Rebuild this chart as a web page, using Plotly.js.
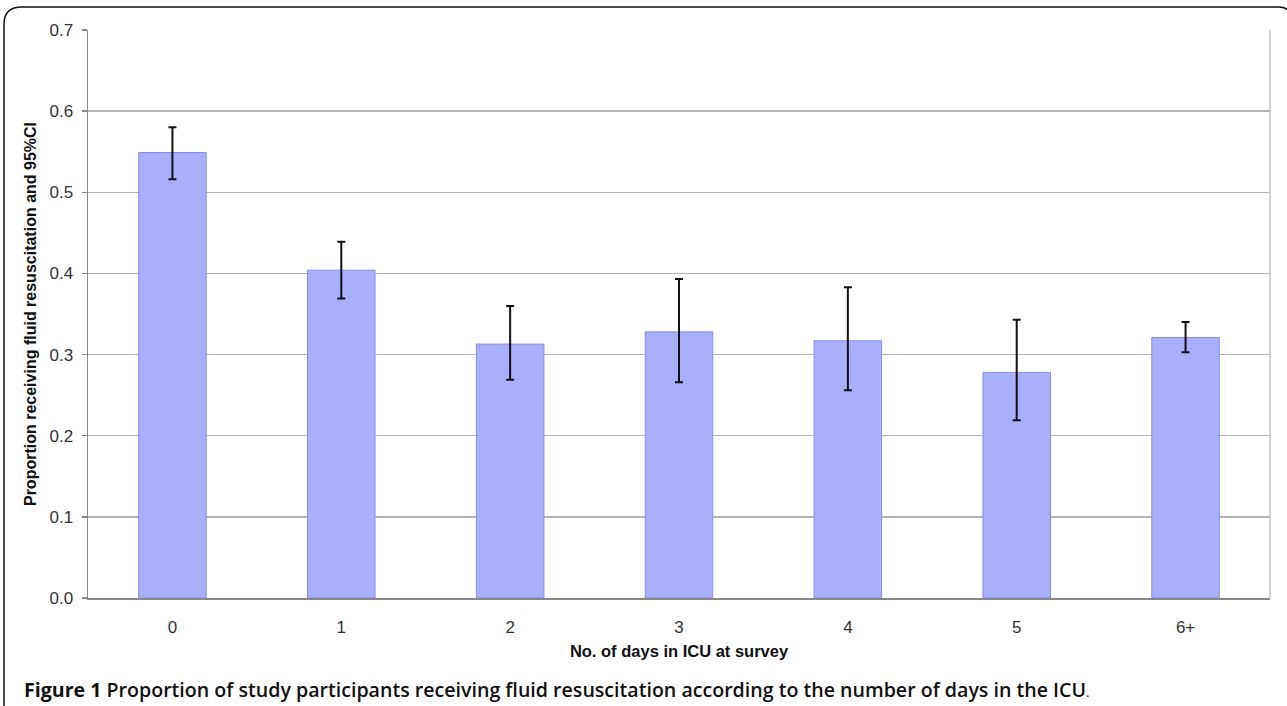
<!DOCTYPE html>
<html><head><meta charset="utf-8">
<script src="https://cdn.plot.ly/plotly-3.0.1.min.js"></script>
<style>body{margin:0;background:#fff}#chart{width:1287px;height:706px}</style>
</head><body><div id="chart"></div>
<script>
var categories = ["0","1","2","3","4","5","6+"];
var proportion = [0.549, 0.404, 0.313, 0.328, 0.317, 0.278, 0.321];
var ciUpper = [0.580, 0.439, 0.360, 0.393, 0.383, 0.343, 0.340];
var ciLower = [0.516, 0.369, 0.269, 0.266, 0.256, 0.219, 0.303];
var yTicks = [0, 0.1, 0.2, 0.3, 0.4, 0.5, 0.6, 0.7];
var yTickLabels = ["0.0","0.1","0.2","0.3","0.4","0.5","0.6","0.7"];

var W = 1287, H = 706, ML = 88, MR = 17, MT = 30, MB = 108;
var PW = W - ML - MR, PH = H - MT - MB;
function px(x){ return (x - ML) / PW; }
function py(y){ return (H - MB - y) / PH; }

var plus = proportion.map(function(v,i){ return ciUpper[i] - v; });
var minus = proportion.map(function(v,i){ return v - ciLower[i]; });

var trace = {
  type: 'bar', x: categories, y: proportion,
  marker: {color: '#aaaefe', line: {color: '#8a8ee0', width: 1}},
  error_y: {type: 'data', symmetric: false, array: plus, arrayminus: minus,
            color: '#111', thickness: 2, width: 4},
  hoverinfo: 'none'
};

var framePath = 'M ' + px(4) + ' ' + py(720) + ' L ' + px(4) + ' ' + py(24) +
  ' Q ' + px(4) + ' ' + py(7) + ' ' + px(22) + ' ' + py(7) +
  ' L ' + px(1279) + ' ' + py(7) +
  ' Q ' + px(1287) + ' ' + py(7) + ' ' + px(1290) + ' ' + py(13);

var layout = {
  width: W, height: H,
  margin: {l: ML, r: MR, t: MT, b: MB, pad: 0},
  paper_bgcolor: '#fff', plot_bgcolor: '#fff',
  showlegend: false, bargap: 0.6,
  font: {family: 'Liberation Sans, Arial, sans-serif', color: '#333'},
  xaxis: {
    type: 'category', showgrid: false, zeroline: false,
    showline: true, linecolor: '#888', linewidth: 1.5,
    ticks: '', tickfont: {size: 17, color: '#333'}, ticklabelstandoff: 13,
    title: {text: '<b>No. of days in ICU at survey</b>', font: {size: 16.5, color: '#111'}, standoff: 9},
    mirror: false
  },
  yaxis: {
    range: [0, 0.7], tickvals: yTicks, ticktext: yTickLabels,
    showgrid: true, gridcolor: '#b4b4b4', gridwidth: 1.5,
    zeroline: false, showline: true, linecolor: '#888', linewidth: 1.5,
    ticks: 'outside', ticklen: 5, tickcolor: '#888', tickwidth: 1.5,
    tickfont: {size: 17, color: '#333'}, ticklabelstandoff: 5,
    title: {text: '<b>Proportion receiving fluid resuscitation and 95%CI</b>', font: {size: 16, color: '#111'}, standoff: 9}
  },
  shapes: [
    {type: 'line', xref: 'paper', yref: 'paper', x0: 1, x1: 1, y0: 0, y1: 1, line: {color: '#c4c4c4', width: 1.5}},
    {type: 'path', xref: 'paper', yref: 'paper', path: framePath, line: {color: '#111', width: 1.5}}
  ],
  annotations: [
    {xref: 'paper', yref: 'paper', x: px(22), y: py(689), xanchor: 'left', yanchor: 'middle',
     showarrow: false, align: 'left',
     text: '<b>Figure 1</b> Proportion of study participants receiving fluid resuscitation according to the number of days in the ICU<span style="font-size:13px;font-weight:400">.</span>',
     font: {family: 'Open Sans, Noto Sans, sans-serif', size: 19.6, color: '#111', weight: 600}}
  ]
};

Plotly.newPlot('chart', [trace], layout, {displayModeBar: false, staticPlot: true});
</script></body></html>
